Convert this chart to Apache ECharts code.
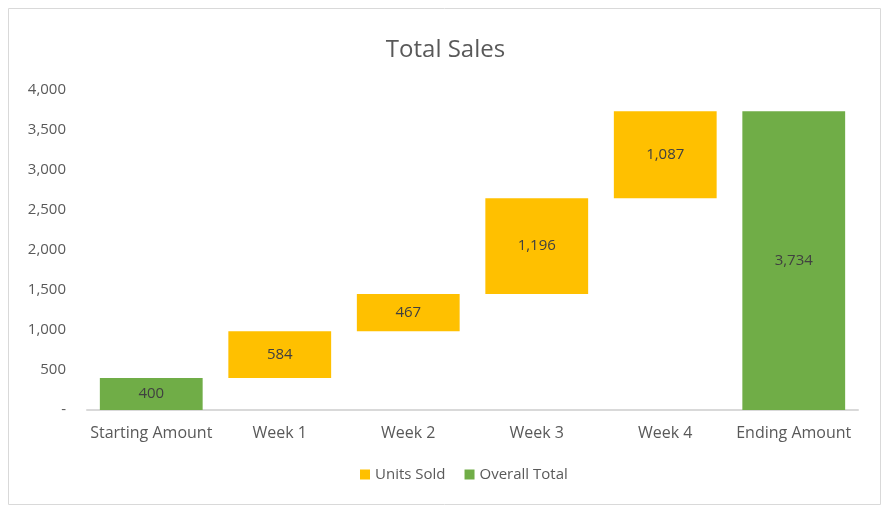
<!DOCTYPE html>
<html>
<head>
<meta charset="utf-8">
<script src="https://cdn.jsdelivr.net/npm/echarts@6/dist/echarts.min.js"></script>
<style>
  html, body { margin: 0; padding: 0; background: #fff; }
  #chart { width: 891px; height: 520px; }
</style>
</head>
<body>
<div id="chart"></div>
<script>
// 数据
var categories = ['Starting Amount', 'Week 1', 'Week 2', 'Week 3', 'Week 4', 'Ending Amount']
var unitsSold = ['-', 584, 467, 1196, 1087, '-']
var overallTotal = [400, '-', '-', '-', '-', 3734]
var yTicks = [0, 500, 1000, 1500, 2000, 2500, 3000, 3500, 4000]

// 透明底座 = 前面累计值
var base = []
var running = 0
for (var i = 0; i < categories.length; i++) {
  if (typeof unitsSold[i] === 'number') {
    base.push(running)
    running += unitsSold[i]
  } else {
    base.push('-')
    running = overallTotal[i]
  }
}

var font = '"Open Sans", "Liberation Sans", sans-serif'
var fmt = function (v) { return v === 0 ? '-' : v.toLocaleString('en-US') }

var option = {
  animation: false,
  textStyle: { fontFamily: font },
  graphic: [{
    type: 'rect',
    shape: { x: 8.5, y: 8.5, width: 872, height: 496 },
    style: { fill: 'none', stroke: '#d9d9d9', lineWidth: 1 }
  }],
  title: {
    text: 'Total Sales',
    left: 'center',
    top: 33,
    textStyle: { fontFamily: font, fontSize: 24, fontWeight: 'normal', color: '#595959' }
  },
  legend: {
    bottom: 33,
    left: 355,
    itemWidth: 10,
    itemHeight: 10,
    itemGap: 19,
    icon: 'rect',
    data: ['Units Sold', 'Overall Total'],
    textStyle: { fontFamily: font, fontSize: 15, color: '#595959' }
  },
  grid: { left: 87, right: 33, top: 90, bottom: 110 },
  xAxis: {
    type: 'category',
    data: categories,
    axisLine: { lineStyle: { color: '#d9d9d9', width: 2 } },
    axisTick: { show: false },
    axisLabel: { fontFamily: font, fontSize: 16, color: '#595959', margin: 15, interval: 0 }
  },
  yAxis: {
    type: 'value',
    min: yTicks[0],
    max: yTicks[yTicks.length - 1],
    interval: 500,
    splitLine: { show: false },
    axisLine: { show: false },
    axisTick: { show: false },
    axisLabel: { fontFamily: font, fontSize: 15, color: '#595959', margin: 21, formatter: fmt }
  },
  series: [
    {
      name: 'base',
      type: 'bar',
      stack: 'total',
      barCategoryGap: '20%',
      itemStyle: { color: 'transparent' },
      emphasis: { disabled: true },
      data: base
    },
    {
      name: 'Units Sold',
      type: 'bar',
      stack: 'total',
      itemStyle: { color: '#ffc000' },
      label: { show: true, position: 'inside', fontFamily: font, fontSize: 15, color: '#404040', formatter: function (p) { return fmt(p.value) } },
      data: unitsSold
    },
    {
      name: 'Overall Total',
      type: 'bar',
      stack: 'total',
      itemStyle: { color: '#70ad47' },
      label: { show: true, position: 'inside', fontFamily: font, fontSize: 15, color: '#404040', formatter: function (p) { return fmt(p.value) } },
      data: overallTotal
    }
  ]
}

var myChart = echarts.init(document.getElementById('chart'))
myChart.setOption(option)
window.onresize = function () { myChart.resize() }
</script>
</body>
</html>
